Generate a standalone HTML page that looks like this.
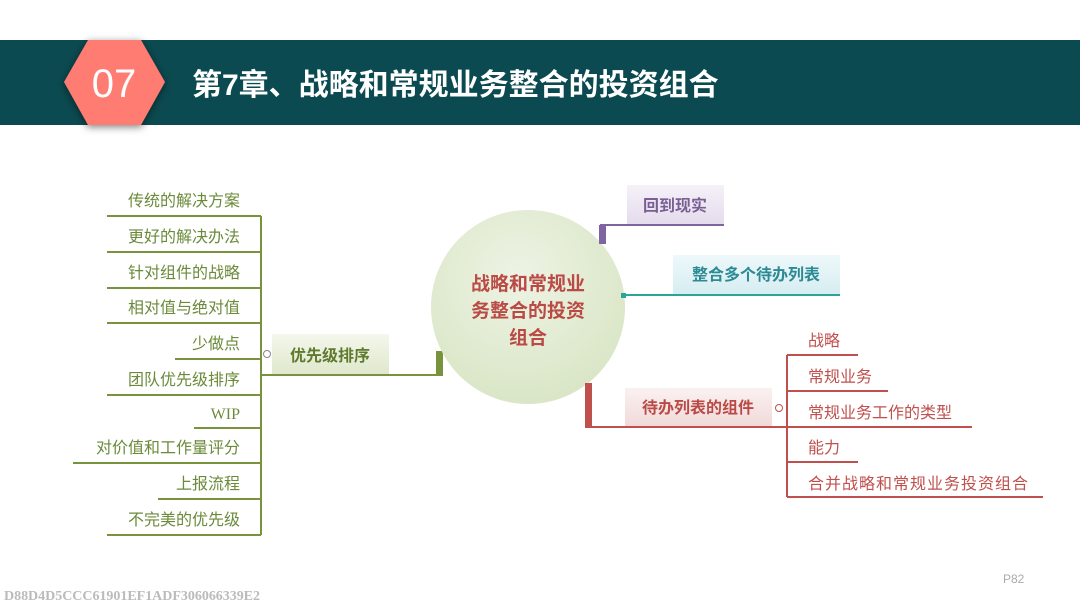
<!DOCTYPE html>
<html><head><meta charset="utf-8"><style>
body{margin:0;width:1080px;height:607px;background:#fff;overflow:hidden;font-family:"Liberation Sans","Noto Sans CJK SC",sans-serif}
</style></head><body>
<svg width="1080" height="607" xmlns="http://www.w3.org/2000/svg" style="position:absolute;left:0;top:0">
<defs>
<linearGradient id="gG" x1="0" y1="0" x2="0" y2="1"><stop offset="0" stop-color="#f4f7ec"/><stop offset="1" stop-color="#dfe8cc"/></linearGradient>
<linearGradient id="gP" x1="0" y1="0" x2="0" y2="1"><stop offset="0" stop-color="#f5f1f8"/><stop offset="1" stop-color="#e4dbec"/></linearGradient>
<linearGradient id="gT" x1="0" y1="0" x2="0" y2="1"><stop offset="0" stop-color="#eef8fa"/><stop offset="1" stop-color="#d6edf2"/></linearGradient>
<linearGradient id="gR" x1="0" y1="0" x2="0" y2="1"><stop offset="0" stop-color="#fbf1f1"/><stop offset="1" stop-color="#f1d9d9"/></linearGradient>
<radialGradient id="gC" cx="0.45" cy="0.35" r="0.7"><stop offset="0" stop-color="#eef3e4"/><stop offset="1" stop-color="#d8e5c4"/></radialGradient>
<filter id="sh" x="-30%" y="-30%" width="160%" height="160%"><feDropShadow dx="0" dy="2" stdDeviation="4" flood-opacity="0.5"/></filter>
</defs>
<rect x="0" y="40" width="1080" height="85" fill="#0b4a50"/>
<polygon points="64,82 88,40 141,40 165,82 141,125 88,125" fill="#ff7b73" filter="url(#sh)"/>
<text x="114" y="97" font-size="40" fill="#fff" text-anchor="middle">07</text>
<text x="192" y="95" font-size="30" font-weight="bold" fill="#fff">第7章、战略和常规业务整合的投资组合</text>

<g stroke="#77933c" stroke-width="2" fill="none">
<line x1="261" y1="216" x2="261" y2="535"/>
<line x1="107" y1="216" x2="261" y2="216"/>
<line x1="107" y1="252" x2="261" y2="252"/>
<line x1="107" y1="288" x2="261" y2="288"/>
<line x1="107" y1="323" x2="261" y2="323"/>
<line x1="175" y1="359" x2="261" y2="359"/>
<line x1="107" y1="395" x2="261" y2="395"/>
<line x1="194" y1="428" x2="261" y2="428"/>
<line x1="73" y1="463" x2="261" y2="463"/>
<line x1="158" y1="499" x2="261" y2="499"/>
<line x1="107" y1="535" x2="261" y2="535"/>
<line x1="261" y1="375" x2="443" y2="375"/>
</g>
<rect x="436" y="351" width="7" height="25" fill="#77933c"/>
<circle cx="267" cy="354" r="3.5" fill="#fff" stroke="#888" stroke-width="1"/>
<rect x="272" y="334" width="117" height="40" fill="url(#gG)"/>
<text x="330" y="361" font-size="16" font-weight="bold" fill="#5f7a2e" text-anchor="middle">优先级排序</text>
<g font-size="16" fill="#6b8a3a" text-anchor="end">
<text x="240" y="206">传统的解决方案</text>
<text x="240" y="242">更好的解决办法</text>
<text x="240" y="278">针对组件的战略</text>
<text x="240" y="313">相对值与绝对值</text>
<text x="240" y="349">少做点</text>
<text x="240" y="385">团队优先级排序</text>
<text x="240" y="419" font-family="Liberation Serif,serif">WIP</text>
<text x="240" y="453">对价值和工作量评分</text>
<text x="240" y="489">上报流程</text>
<text x="240" y="525">不完美的优先级</text>
</g>

<ellipse cx="528" cy="307" rx="97" ry="97" fill="url(#gC)"/>
<g font-size="19" font-weight="bold" fill="#b94a45" text-anchor="middle">
<text x="528" y="290">战略和常规业</text>
<text x="528" y="317">务整合的投资</text>
<text x="528" y="344">组合</text>
</g>

<rect x="627" y="185" width="97" height="40" fill="url(#gP)"/>
<text x="675" y="211" font-size="16" font-weight="bold" fill="#7a5f94" text-anchor="middle">回到现实</text>
<line x1="600" y1="225" x2="724" y2="225" stroke="#8064a2" stroke-width="2"/>
<rect x="599" y="225" width="7" height="19" fill="#8064a2"/>

<rect x="673" y="255" width="167" height="40" fill="url(#gT)"/>
<text x="756" y="280" font-size="16" font-weight="bold" fill="#2b8a93" text-anchor="middle">整合多个待办列表</text>
<line x1="622" y1="295" x2="840" y2="295" stroke="#2aa597" stroke-width="2"/>
<rect x="621" y="293" width="5" height="5" fill="#2aa597"/>

<rect x="625" y="388" width="147" height="39" fill="url(#gR)"/>
<text x="698" y="413" font-size="16" font-weight="bold" fill="#b94a45" text-anchor="middle">待办列表的组件</text>
<rect x="585" y="383" width="7" height="45" fill="#c0504d"/>
<g stroke="#c0504d" stroke-width="2">
<line x1="585" y1="427" x2="972" y2="427"/>
<line x1="787" y1="355" x2="787" y2="497"/>
<line x1="787" y1="355" x2="858" y2="355"/>
<line x1="787" y1="391" x2="888" y2="391"/>
<line x1="787" y1="462" x2="858" y2="462"/>
<line x1="787" y1="497" x2="1043" y2="497"/>
</g>
<circle cx="779" cy="408" r="3.5" fill="#fff" stroke="#c0504d" stroke-width="1"/>
<g font-size="16" fill="#c0504d">
<text x="808" y="346">战略</text>
<text x="808" y="382">常规业务</text>
<text x="808" y="418">常规业务工作的类型</text>
<text x="808" y="453">能力</text>
<text x="808" y="489" textLength="220">合并战略和常规业务投资组合</text>
</g>
<text x="1003" y="583" font-size="12" fill="#aaa">P82</text>
<text x="4" y="600" font-size="14" font-weight="bold" fill="#bbb" font-family="Liberation Serif,serif" textLength="256">D88D4D5CCC61901EF1ADF306066339E2</text>
</svg>
</body></html>
